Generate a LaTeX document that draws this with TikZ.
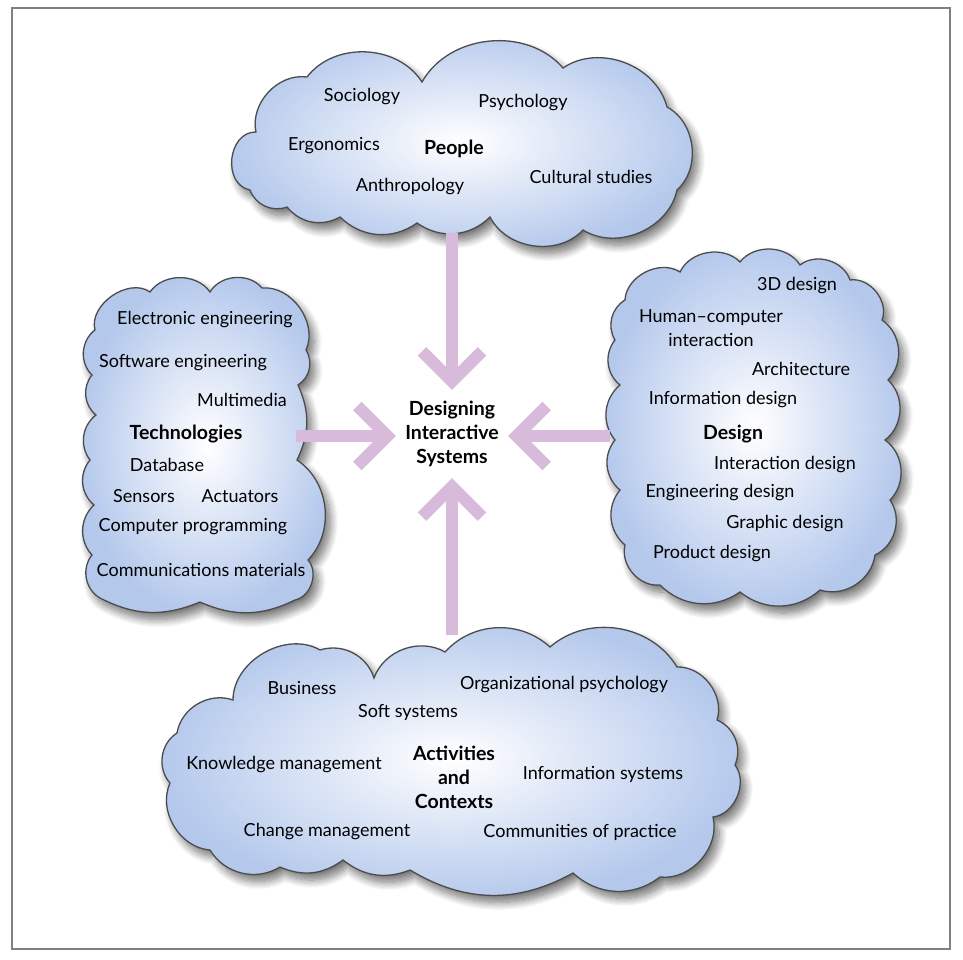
\documentclass[tikz,border=0pt]{standalone}
\usepackage{fontspec}
\setmainfont{Lato}
\usetikzlibrary{arrows.meta,shadows.blur}
\definecolor{cloudblue}{RGB}{180,200,236}
\definecolor{lilac}{RGB}{216,186,218}
\definecolor{framegray}{RGB}{128,128,128}

\begin{document}
\begin{tikzpicture}[x=1pt,y=-1pt,
  cloud area/.style={draw=black!70,line width=1.3pt,inner color=white,outer color=cloudblue,blur shadow={shadow xshift=5pt,shadow yshift=-7pt,shadow opacity=55,shadow blur radius=8pt,shadow blur steps=12}},
  puff/.style={bend left=#1},puff/.default=55,
  topic/.style={font=\fontsize{18}{24}\selectfont,inner sep=0pt,align=center},
  heading/.style={topic,font=\fontsize{19.5}{24}\selectfont\bfseries},
  flow/.style={draw=lilac,line width=12pt,-{Straight Barb[length=30pt,width=60pt,line width=12pt]}}]
  \useasboundingbox (0,0) rectangle (963,960);
  \draw[framegray,line width=2pt] (12,8) rectangle (950,949);

  % clouds
  \path[cloud area] (256,132) to[puff] (307,77) to[puff] (422,82) to[puff] (563,68) to[puff] (667,107)
    to[puff] (677,190) to[puff] (583,230) to[puff] (490,217) to[puff=40] (417,223) to[puff=40] (340,217)
    to[puff=40] (287,207) to[puff=45] (250,190) to[puff=85,looseness=1.25] (256,132) -- cycle;
  \path[cloud area] (95,330) to[puff=70] (150,292) to[puff] (210,292) to[puff] (262,288) to[puff=60] (306,350)
    to[puff=45] (298,385) to[puff=25] (297,460) to[puff=50] (308,560) to[puff=60] (295,600) to[puff=25] (200,602)
    to[puff=25] (100,598) to[puff=50] (92,555) to[puff=45] (94,505) to[puff=45] (90,460) to[puff=45] (96,415)
    to[puff=45] (92,375) to[puff=50] (95,330) -- cycle;
  \path[cloud area] (625,300) to[puff=60] (680,272) to[puff] (740,262) to[puff] (800,265) to[puff] (850,280)
    to[puff=60] (882,320) to[puff=50] (888,380) to[puff=50] (885,440) to[puff=50] (890,500) to[puff=50] (875,555)
    to[puff=50] (820,590) to[puff=40] (740,592) to[puff=40] (660,585) to[puff=55] (625,545) to[puff=45] (620,490)
    to[puff=45] (615,440) to[puff=45] (620,385) to[puff=45] (615,340) to[puff=45] (625,300) -- cycle;
  \path[cloud area] (233,700) to[puff=60] (320,650) to[puff=45] (374,678) to[puff=50] (445,652) to[puff=45] (550,647)
    to[puff=50] (677,667) to[puff=55] (717,720) to[puff=45] (735,765) to[puff=60] (713,817) to[puff=55] (660,877)
    to[puff=40] (573,873) to[puff=30] (410,870) to[puff=30] (343,860) to[puff=30] (280,867) to[puff=45] (210,850)
    to[puff=55] (170,783) to[puff=50] (177,733) to[puff=50] (233,700) -- cycle;

  % people
  \node[topic] (soc) at (362,97) {Sociology};
  \node[topic] (psy) at (523,103) {Psychology};
  \node[topic] (erg) at (334,146) {Ergonomics};
  \node[heading] (peo) at (454,149) {People};
  \node[topic] (ant) at (410,187) {Anthropology};
  \node[topic] (cul) at (591,177) {Cultural studies};

  % technologies
  \node[topic] (ele) at (205,320) {Electronic engineering};
  \node[topic] (sof) at (183,363) {Software engineering};
  \node[topic] (mul) at (242,400) {Multimedia};
  \node[heading] (tec) at (186,434) {Technologies};
  \node[topic] (dat) at (167,465) {Database};
  \node[topic] (sen) at (144,496) {Sensors};
  \node[topic] (act) at (240,496) {Actuators};
  \node[topic] (com) at (193,527) {Computer programming};
  \node[topic] (mat) at (201,570) {Communications materials};

  % design
  \node[topic] (thr) at (797,286) {3D design};
  \node[topic] (hci) at (711,328) {Human--computer\\interaction};
  \node[topic] (arc) at (801,369) {Architecture};
  \node[topic] (inf) at (723,400) {Information design};
  \node[heading] (des) at (733,434) {Design};
  \node[topic] (ixd) at (785,465) {Interaction design};
  \node[topic] (eng) at (720,493) {Engineering design};
  \node[topic] (gra) at (785,524) {Graphic design};
  \node[topic] (pro) at (712,554) {Product design};

  % activities and contexts
  \node[topic] (bus) at (302,688) {Business};
  \node[topic] (org) at (564,685) {Organizational psychology};
  \node[topic] (ssy) at (408,712) {Soft systems};
  \node[topic] (kno) at (284,765) {Knowledge management};
  \node[heading] (acx) at (454,777) {Activities\\and\\Contexts};
  \node[topic] (isy) at (603,774) {Information systems};
  \node[topic] (chg) at (327,832) {Change management};
  \node[topic] (cop) at (580,832) {Communities of practice};

  % centre
  \node[heading,minimum width=112pt,minimum height=88pt] (dis) at (452,434) {Designing\\Interactive\\Systems};

  \coordinate (p) at (452,233);
  \coordinate (t) at (296,436);
  \coordinate (d) at (610,436);
  \coordinate (c) at (452,635);

\path
  (p) edge[flow] (dis.north)
  (t) edge[flow] (dis.west |- t)
  (d) edge[flow] (dis.east |- d)
  (c) edge[flow] (dis.south)
;
\end{tikzpicture}
\end{document}
